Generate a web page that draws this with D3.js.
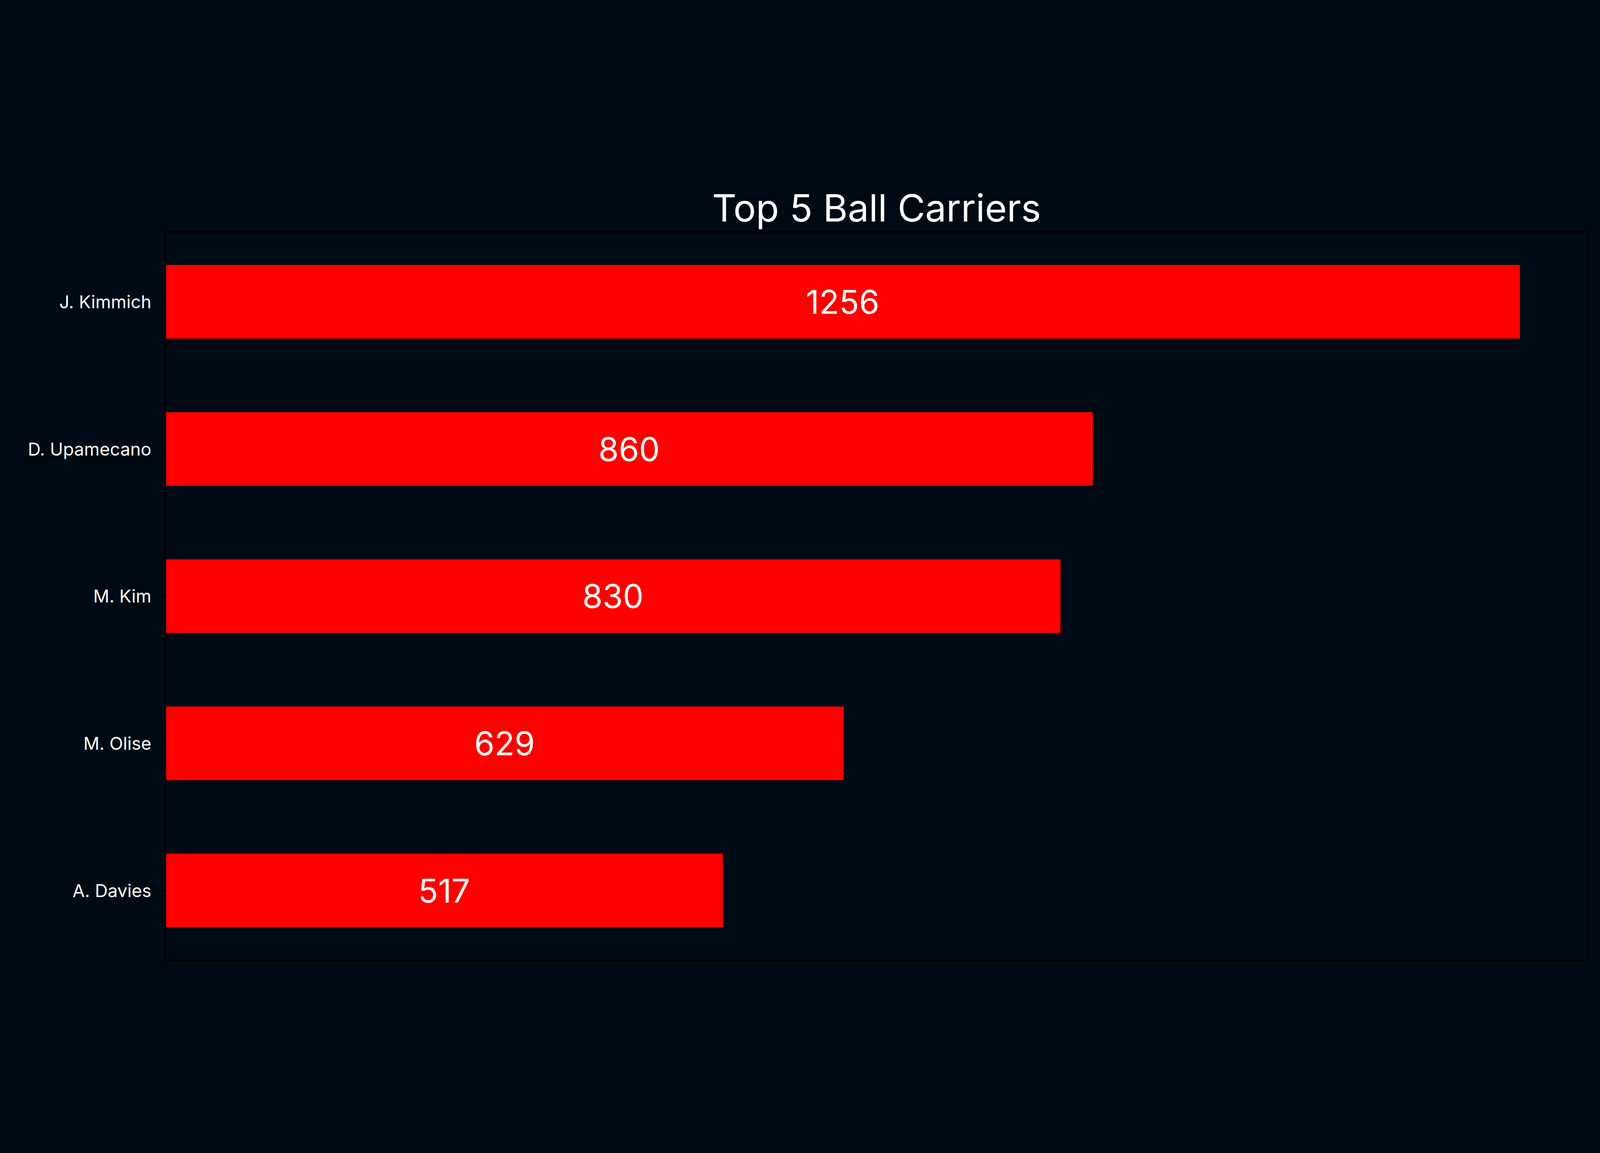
<!DOCTYPE html>
<html><head><meta charset="utf-8">
<script src="https://cdn.jsdelivr.net/npm/d3@7"></script>
<style>html,body{margin:0;padding:0;overflow:hidden;background:#000a14;}svg{display:block;}</style>
</head><body><div id="chart"></div>
<script>
const players = ['J. Kimmich', 'D. Upamecano', 'M. Kim', 'M. Olise', 'A. Davies'];
const carries = [1256, 860, 830, 629, 517];

const W = 5951, H = 2951;
const m = {left: 615, right: 46, top: 194, bottom: 48};
const iw = W - m.left - m.right, ih = H - m.top - m.bottom;

const svg = d3.select('#chart').append('svg')
    .attr('viewBox', `0 0 ${W} ${H}`)
    .attr('preserveAspectRatio', 'xMidYMid meet')
    .style('width', '100vw').style('height', '100vh')
    .style('background', '#000a14');

const x = d3.scaleLinear().domain([0, 1256 * 1.05]).range([0, iw]);
// matplotlib-like categorical axis: index 0..4, bar height 0.5
const y = d3.scaleLinear().domain([-0.475, 4.475]).range([0, ih]);

const g = svg.append('g').attr('transform', `translate(${m.left},${m.top})`);

g.selectAll('rect.bar').data(carries).enter().append('rect')
    .attr('class', 'bar')
    .attr('x', x(0))
    .attr('y', (d, i) => y(i - 0.25))
    .attr('width', d => x(d) - x(0))
    .attr('height', y(0.5) - y(0))
    .attr('fill', '#ff0000');

g.selectAll('text.val').data(carries).enter().append('text')
    .attr('class', 'val')
    .attr('x', d => x(d / 2))
    .attr('y', (d, i) => y(i))
    .attr('text-anchor', 'middle')
    .attr('dominant-baseline', 'central')
    .attr('fill', 'white')
    .attr('font-family', 'Inter, sans-serif')
    .attr('font-size', '122px')
    .text(d => d);

// frame
g.append('rect').attr('width', iw).attr('height', ih)
    .attr('fill', 'none').attr('stroke', 'black').attr('stroke-width', 6);

// y ticks
players.forEach((p, i) => {
    g.append('line').attr('x1', -21).attr('x2', 0)
        .attr('y1', y(i)).attr('y2', y(i))
        .attr('stroke', 'black').attr('stroke-width', 5);
    g.append('text')
        .attr('x', -52).attr('y', y(i))
        .attr('text-anchor', 'end')
        .attr('dominant-baseline', 'central')
        .attr('fill', 'white')
        .attr('font-family', 'Inter, sans-serif')
        .attr('font-size', '66px')
        .text(p);
});

svg.append('text')
    .attr('x', m.left + iw / 2).attr('y', 155)
    .attr('text-anchor', 'middle')
    .attr('fill', 'white')
    .attr('font-family', 'Inter, sans-serif')
    .attr('font-size', '140px')
    .text('Top 5 Ball Carriers');
</script>
</body></html>
